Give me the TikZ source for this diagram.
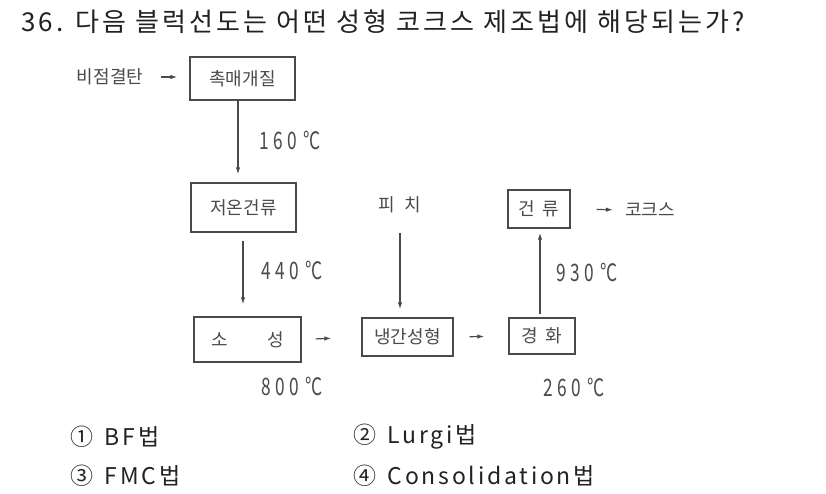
\documentclass[tikz,border=0pt]{standalone}
\usepackage{fontspec}
\setmainfont{Noto Sans CJK KR}
\usetikzlibrary{arrows.meta}
\definecolor{ink}{HTML}{222222}
\definecolor{dg}{HTML}{4A4A4A}
\tikzset{
  stepbox/.style={draw=dg, line width=1.4pt, minimum width=#1, inner sep=0pt, text=dg, font=\fontsize{18}{18}\selectfont},
  lbl/.style={text=dg, inner sep=0pt, font=\fontsize{18}{18}\selectfont},
  deg/.style={text=dg, inner sep=0pt, font=\fontsize{24}{24}\selectfont},
  flow/.style={draw=dg, line width=1.2pt, -{Latex[length=7pt,width=4.5pt]}},
  opt/.style={text=ink, anchor=west, inner sep=0pt, font=\fontsize{23}{23}\selectfont\addfontfeature{LetterSpace=12}},
}
\newcommand{\dg}[1]{\scalebox{0.72}[1]{#1}}
\begin{document}
\begin{tikzpicture}[x=1pt,y=-1pt]
\useasboundingbox (0,0) rectangle (826,493);
\fill[white] (0,0) rectangle (826,493);
% title
\node[text=ink, anchor=west, inner sep=0pt, font=\fontsize{26}{26}\selectfont\addfontfeature{LetterSpace=12}] (title) at (21,22) {36. 다음 블럭선도는 어떤 성형 코크스 제조법에 해당되는가?};
% nodes
\node[lbl] (src) at (110,77) {비점결탄};
\node[stepbox=105pt, minimum height=43pt] (b1) at (242.5,78.5) {촉매개질};
\node[stepbox=105pt, minimum height=49pt] (b2) at (243.5,207.5) {저온건류};
\node[stepbox=107pt, minimum height=45pt] (b3) at (247.5,339.5) {소\hspace{2.2em}성};
\node[lbl] (pitch) at (400,205) {피\hspace{0.5em}치};
\node[stepbox=91pt, minimum height=38pt] (b4) at (407.5,337) {냉간성형};
\node[stepbox=66pt, minimum height=36pt] (b5) at (542,336) {경\hspace{0.4em}화};
\node[stepbox=62pt, minimum height=38pt] (b6) at (539,209) {건\hspace{0.4em}류};
\node[lbl] (coke) at (650,210) {코크스};
% temperature labels
\node[deg] (t1) at (290,140) {\dg{1\hspace{0.28em}6\hspace{0.28em}0\hspace{0.35em}°C}};
\node[deg] (t2) at (292,270) {\dg{4\hspace{0.28em}4\hspace{0.28em}0\hspace{0.35em}°C}};
\node[deg] (t3) at (587,272) {\dg{9\hspace{0.28em}3\hspace{0.28em}0\hspace{0.35em}°C}};
\node[deg] (t4) at (292,386) {\dg{8\hspace{0.28em}0\hspace{0.28em}0\hspace{0.35em}°C}};
\node[deg] (t5) at (574,387) {\dg{2\hspace{0.28em}6\hspace{0.28em}0\hspace{0.35em}°C}};
% connectors
\draw[flow, shorten <=18pt, shorten >=12pt] (src.east) -- (b1.west |- src.east);
\draw[flow, shorten >=8pt] (b1.south -| 238,0) -- (b2.north -| 238,0);
\draw[flow, shorten <=8pt, shorten >=12pt] (b2.south -| 243,0) -- (b3.north -| 243,0);
\draw[flow, shorten <=14pt, shorten >=30pt] (b3.east) -- (b4.west);
\draw[flow, shorten <=20pt, shorten >=8pt] (pitch.south) -- (b4.north -| pitch.south);
\draw[flow, shorten <=16pt, shorten >=24pt] (b4.east) -- (b5.west);
\draw[flow, shorten <=3pt, shorten >=4pt] (b5.north -| 540,0) -- (b6.south -| 540,0);
\draw[flow, shorten <=26pt, shorten >=12pt] (b6.east) -- (coke.west);
% options
\node[opt] (o1) at (70,437) {①\hspace{0.5em}BF법};
\node[opt] (o2) at (353,437) {②\hspace{0.5em}Lurgi법};
\node[opt] (o3) at (70,476) {③\hspace{0.5em}FMC법};
\node[opt] (o4) at (353,476) {④\hspace{0.5em}Consolidation법};
\end{tikzpicture}
\end{document}
